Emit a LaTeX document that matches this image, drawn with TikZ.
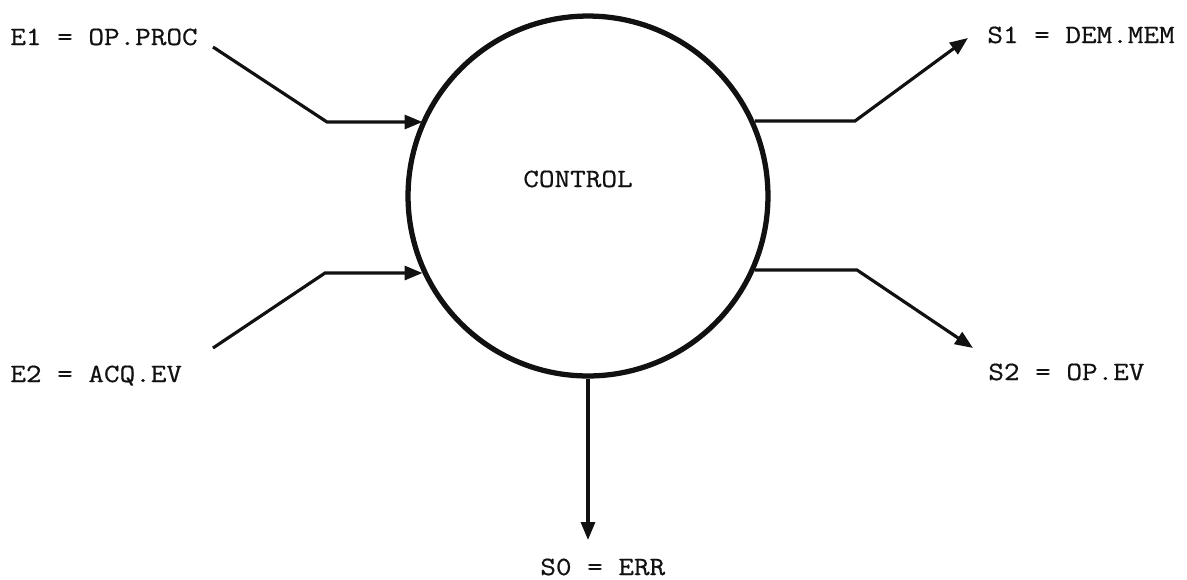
\documentclass[tikz,border=0pt]{standalone}
\usepackage{fontspec}
\setmonofont[FakeStretch=1.15,FakeBold=0.6]{Latin Modern Mono}
\usetikzlibrary{arrows.meta}
\definecolor{ink}{HTML}{111111}

\begin{document}
\begin{tikzpicture}[font=\ttfamily\fontsize{15}{18}\selectfont,text=ink,
    >={Triangle[length=.36cm,width=.28cm]},x=.02cm,y=-.02cm]
  \useasboundingbox (0,0) rectangle (1187,579);
  \tikzset{flow/.style={->,ink,line width=1.8pt},
           sig/.style={anchor=base west,inner sep=0pt}}

  % central process
  \node[circle,draw=ink,line width=3pt,minimum size=7.2cm,inner sep=0pt]
    (ctrl) at (588,196) {};
  \node[sig] (ctrllab) at (523,187) {CONTROL};

  % signal names
  \foreach \n/\x/\y/\t in {e1/10/45/E1 = OP.PROC,e2/10/382/E2 = ACQ.EV,
      s1/987/43/S1 = DEM.MEM,s2/988/380/S2 = OP.EV,s0/540/575/S0 = ERR}
    \node[sig] (\n) at (\x,\y) {\t};

  % inputs
  \coordinate (e1s) at (213,47);
  \coordinate (e1b) at (327,122);
  \coordinate (e2s) at (213,348);
  \coordinate (e2b) at (325,273);
  \draw[flow] (e1s) -- (e1b) -- (e1b -| ctrl.155.7);
  \draw[flow] (e2s) -- (e2b) -- (e2b -| ctrl.205);

  % outputs
  \coordinate (s1b) at (855,121);
  \coordinate (s1e) at (968,38);
  \coordinate (s2b) at (857,270);
  \coordinate (s2e) at (973,348);
  \coordinate (s0e) at (589,540);
  \draw[flow] (s1b -| ctrl.24.3) -- (s1b) -- (s1e);
  \draw[flow] (s2b -| ctrl.336.1) -- (s2b) -- (s2e);
  \draw[flow] (ctrl.south) -- (ctrl.south |- s0e);
\end{tikzpicture}
\end{document}
